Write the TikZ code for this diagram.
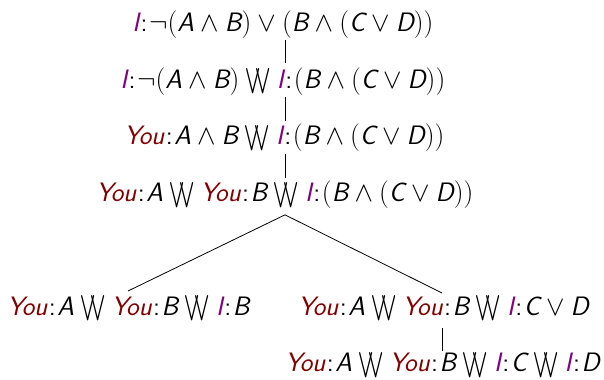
\documentclass[tikz,border=0pt]{standalone}
\usepackage{tikz}
\usetikzlibrary{calc}
\usepackage{xcolor}
\usepackage{amsmath}
\definecolor{youred}{RGB}{128,0,0}
\definecolor{ipurple}{RGB}{128,0,128}
\newcommand{\pv}[1]{\textsf{\itshape #1}}
\newcommand{\Me}{{\color{ipurple}\pv{I}}}
\newcommand{\Yu}{{\color{youred}\pv{You}}}
\newcommand{\says}{\mathord{\mkern1mu\text{\color{black}\sffamily:}\mkern1mu}}
\newcommand{\wor}{\mathbin{\scalebox{0.66}[0.92]{$\bigvee\mkern-8mu\bigvee$}}}

\begin{document}
\begin{tikzpicture}[x=0.75pt,y=-0.75pt,
    every node/.style={anchor=base west,inner sep=0pt,font=\fontsize{20}{24}\selectfont},
    link/.style={draw=black,line width=0.6pt}]
\useasboundingbox (0,0) rectangle (604,379);
% the four top lines
\node (l1) at (132,31) {$\Me\says\neg(\pv{A}\wedge\pv{B})\vee(\pv{B}\wedge(\pv{C}\vee\pv{D}))$};
\node (l2) at (120,88) {$\Me\says\neg(\pv{A}\wedge\pv{B})\wor\Me\says(\pv{B}\wedge(\pv{C}\vee\pv{D}))$};
\node (l3) at (124,144.5) {$\Yu\says\pv{A}\wedge\pv{B}\wor\Me\says(\pv{B}\wedge(\pv{C}\vee\pv{D}))$};
\node (l4) at (96,201.5) {$\Yu\says\pv{A}\wor\Yu\says\pv{B}\wor\Me\says(\pv{B}\wedge(\pv{C}\vee\pv{D}))$};
% the leaves
\node (lfL) at (7,315) {$\Yu\says\pv{A}\wor\Yu\says\pv{B}\wor\Me\says\pv{B}$};
\node (lfR) at (298,315) {$\Yu\says\pv{A}\wor\Yu\says\pv{B}\wor\Me\says\pv{C}\vee\pv{D}$};
\node (lfD) at (285,371.5) {$\Yu\says\pv{A}\wor\Yu\says\pv{B}\wor\Me\says\pv{C}\wor\Me\says\pv{D}$};
% connectors
\coordinate (spine) at (285,0);
\coordinate (endL) at (128,291);
\coordinate (endR) at (442,293);
\draw[link] ([yshift=-6.75pt]l1.base -| spine) -- ([yshift=18.75pt]l2.base -| spine);
\draw[link] ([yshift=-6.75pt]l2.base -| spine) -- ([yshift=18pt]l3.base -| spine);
\draw[link] ([yshift=-7pt]l3.base -| spine) -- ([yshift=18pt]l4.base -| spine);
\draw[link] ([yshift=-10pt]l4.base -| spine) coordinate (fork) -- (endL);
\draw[link] (fork) -- (endR);
\draw[link] ([yshift=-9.75pt]lfR.base -| endR) -- ([yshift=15.5pt]lfD.base -| endR);
\end{tikzpicture}
\end{document}
